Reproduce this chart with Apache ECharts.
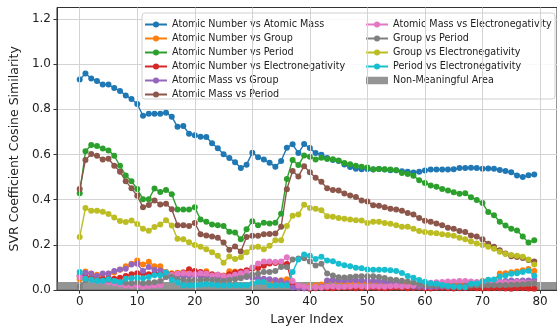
<!DOCTYPE html>
<html>
<head>
<meta charset="utf-8">
<script src="https://cdn.jsdelivr.net/npm/echarts@6/dist/echarts.min.js"></script>
<style>
  html, body { margin: 0; padding: 0; background: #fff; }
  #chart { width: 557px; height: 331px; }
</style>
</head>
<body>
<div id="chart"></div>
<script>
// layer index 0..79
const layers = Array.from({ length: 80 }, (_, i) => i)
const xTicks = [0, 10, 20, 30, 40, 50, 60, 70, 80]
const yTicks = [0, 0.2, 0.4, 0.6, 0.8, 1.0, 1.2]
const nonMeaningfulTop = 0.036

const anAtomicMass = [0.932, 0.958, 0.936, 0.925, 0.909, 0.909, 0.894, 0.881, 0.861, 0.845, 0.823, 0.771, 0.780, 0.780, 0.780, 0.784, 0.767, 0.722, 0.726, 0.692, 0.685, 0.678, 0.677, 0.650, 0.627, 0.601, 0.584, 0.566, 0.540, 0.555, 0.608, 0.588, 0.578, 0.563, 0.546, 0.571, 0.630, 0.645, 0.606, 0.646, 0.628, 0.606, 0.599, 0.584, 0.576, 0.571, 0.556, 0.544, 0.537, 0.534, 0.536, 0.533, 0.536, 0.533, 0.530, 0.530, 0.526, 0.524, 0.520, 0.523, 0.529, 0.533, 0.533, 0.533, 0.533, 0.534, 0.540, 0.540, 0.541, 0.540, 0.537, 0.538, 0.537, 0.531, 0.527, 0.521, 0.507, 0.500, 0.508, 0.511]
const anGroup = [0.048, 0.082, 0.072, 0.068, 0.070, 0.072, 0.078, 0.090, 0.105, 0.116, 0.131, 0.113, 0.125, 0.106, 0.106, 0.080, 0.075, 0.077, 0.078, 0.080, 0.080, 0.078, 0.083, 0.063, 0.066, 0.065, 0.083, 0.082, 0.080, 0.085, 0.060, 0.045, 0.038, 0.036, 0.040, 0.044, 0.048, 0.025, 0.018, 0.015, 0.018, 0.020, 0.025, 0.040, 0.042, 0.040, 0.037, 0.036, 0.035, 0.036, 0.036, 0.037, 0.036, 0.035, 0.033, 0.030, 0.028, 0.026, 0.024, 0.022, 0.020, 0.020, 0.022, 0.023, 0.025, 0.025, 0.027, 0.028, 0.030, 0.032, 0.040, 0.043, 0.045, 0.073, 0.075, 0.079, 0.082, 0.088, 0.093, 0.084]
const anPeriod = [0.428, 0.614, 0.642, 0.637, 0.626, 0.618, 0.594, 0.550, 0.507, 0.481, 0.447, 0.402, 0.402, 0.449, 0.434, 0.443, 0.424, 0.356, 0.356, 0.356, 0.366, 0.312, 0.302, 0.290, 0.287, 0.283, 0.258, 0.255, 0.225, 0.269, 0.305, 0.287, 0.298, 0.295, 0.298, 0.338, 0.491, 0.575, 0.553, 0.595, 0.590, 0.578, 0.585, 0.580, 0.579, 0.573, 0.562, 0.557, 0.550, 0.546, 0.542, 0.534, 0.536, 0.534, 0.533, 0.530, 0.518, 0.514, 0.506, 0.486, 0.474, 0.463, 0.457, 0.447, 0.440, 0.433, 0.426, 0.428, 0.411, 0.399, 0.385, 0.345, 0.331, 0.302, 0.286, 0.271, 0.264, 0.237, 0.210, 0.221]
const anElectroneg = [0.062, 0.060, 0.055, 0.055, 0.050, 0.052, 0.050, 0.055, 0.062, 0.070, 0.075, 0.072, 0.070, 0.075, 0.072, 0.065, 0.070, 0.072, 0.078, 0.092, 0.085, 0.080, 0.075, 0.070, 0.068, 0.062, 0.070, 0.078, 0.082, 0.088, 0.094, 0.098, 0.108, 0.118, 0.120, 0.120, 0.115, 0.020, 0.010, 0.008, 0.006, 0.008, 0.010, 0.009, 0.008, 0.010, 0.012, 0.010, 0.008, 0.009, 0.010, 0.011, 0.009, 0.008, 0.010, 0.012, 0.010, 0.008, 0.009, 0.010, 0.008, 0.007, 0.009, 0.010, 0.008, 0.007, 0.008, 0.009, 0.010, 0.008, 0.007, 0.008, 0.009, 0.008, 0.007, 0.006, 0.008, 0.009, 0.007, 0.006]
const amGroup = [0.065, 0.077, 0.073, 0.062, 0.073, 0.073, 0.084, 0.091, 0.094, 0.113, 0.116, 0.084, 0.102, 0.090, 0.087, 0.060, 0.058, 0.065, 0.060, 0.062, 0.065, 0.060, 0.058, 0.060, 0.055, 0.052, 0.058, 0.060, 0.062, 0.058, 0.055, 0.052, 0.050, 0.048, 0.045, 0.040, 0.030, 0.012, 0.010, 0.008, 0.010, 0.012, 0.015, 0.042, 0.045, 0.044, 0.043, 0.045, 0.044, 0.043, 0.042, 0.040, 0.040, 0.038, 0.036, 0.030, 0.020, 0.018, 0.016, 0.015, 0.015, 0.014, 0.015, 0.016, 0.015, 0.016, 0.018, 0.020, 0.022, 0.025, 0.028, 0.030, 0.035, 0.038, 0.040, 0.042, 0.040, 0.043, 0.042, 0.045]
const amPeriod = [0.447, 0.576, 0.602, 0.594, 0.578, 0.581, 0.550, 0.524, 0.482, 0.450, 0.417, 0.367, 0.376, 0.396, 0.379, 0.382, 0.358, 0.287, 0.287, 0.284, 0.297, 0.247, 0.242, 0.237, 0.232, 0.210, 0.179, 0.193, 0.171, 0.235, 0.240, 0.240, 0.247, 0.248, 0.250, 0.280, 0.446, 0.527, 0.503, 0.548, 0.521, 0.497, 0.479, 0.450, 0.443, 0.440, 0.427, 0.418, 0.412, 0.396, 0.392, 0.375, 0.373, 0.367, 0.360, 0.356, 0.351, 0.341, 0.334, 0.319, 0.307, 0.302, 0.295, 0.287, 0.276, 0.271, 0.261, 0.257, 0.242, 0.237, 0.225, 0.205, 0.192, 0.176, 0.162, 0.150, 0.146, 0.142, 0.133, 0.126]
const amElectroneg = [0.058, 0.050, 0.045, 0.040, 0.038, 0.035, 0.030, 0.025, 0.020, 0.018, 0.020, 0.015, 0.018, 0.020, 0.022, 0.060, 0.068, 0.072, 0.075, 0.072, 0.070, 0.075, 0.072, 0.065, 0.068, 0.062, 0.060, 0.068, 0.075, 0.080, 0.100, 0.118, 0.126, 0.126, 0.124, 0.126, 0.145, 0.040, 0.020, 0.015, 0.012, 0.014, 0.012, 0.015, 0.016, 0.014, 0.015, 0.016, 0.018, 0.016, 0.015, 0.017, 0.016, 0.015, 0.017, 0.018, 0.016, 0.018, 0.020, 0.025, 0.030, 0.032, 0.035, 0.036, 0.038, 0.038, 0.040, 0.040, 0.038, 0.036, 0.035, 0.034, 0.035, 0.036, 0.034, 0.033, 0.036, 0.034, 0.033, 0.032]
const groupPeriod = [0.015, 0.045, 0.048, 0.045, 0.042, 0.045, 0.040, 0.035, 0.032, 0.030, 0.035, 0.030, 0.032, 0.035, 0.040, 0.058, 0.058, 0.048, 0.045, 0.042, 0.045, 0.044, 0.046, 0.045, 0.042, 0.040, 0.045, 0.048, 0.052, 0.061, 0.068, 0.072, 0.080, 0.080, 0.085, 0.102, 0.102, 0.135, 0.140, 0.141, 0.127, 0.109, 0.116, 0.073, 0.065, 0.057, 0.056, 0.058, 0.060, 0.061, 0.061, 0.061, 0.058, 0.054, 0.047, 0.045, 0.041, 0.038, 0.034, 0.026, 0.022, 0.020, 0.020, 0.019, 0.018, 0.018, 0.018, 0.019, 0.020, 0.020, 0.020, 0.021, 0.022, 0.022, 0.023, 0.024, 0.025, 0.026, 0.028, 0.030]
const groupElectroneg = [0.235, 0.363, 0.351, 0.351, 0.347, 0.337, 0.321, 0.306, 0.301, 0.308, 0.292, 0.271, 0.263, 0.279, 0.290, 0.309, 0.286, 0.227, 0.225, 0.212, 0.200, 0.192, 0.181, 0.167, 0.152, 0.121, 0.149, 0.138, 0.145, 0.167, 0.189, 0.192, 0.181, 0.196, 0.220, 0.221, 0.283, 0.329, 0.334, 0.378, 0.363, 0.360, 0.353, 0.327, 0.324, 0.319, 0.316, 0.312, 0.309, 0.308, 0.297, 0.302, 0.302, 0.297, 0.293, 0.287, 0.280, 0.280, 0.271, 0.261, 0.257, 0.254, 0.251, 0.247, 0.244, 0.240, 0.232, 0.225, 0.215, 0.206, 0.199, 0.192, 0.183, 0.170, 0.160, 0.155, 0.152, 0.148, 0.135, 0.113]
const periodElectroneg = [0.080, 0.050, 0.045, 0.040, 0.040, 0.048, 0.040, 0.035, 0.050, 0.052, 0.055, 0.052, 0.058, 0.066, 0.066, 0.078, 0.045, 0.035, 0.022, 0.022, 0.022, 0.024, 0.026, 0.024, 0.022, 0.020, 0.022, 0.022, 0.022, 0.022, 0.029, 0.036, 0.036, 0.022, 0.022, 0.022, 0.022, 0.080, 0.135, 0.158, 0.152, 0.138, 0.148, 0.131, 0.128, 0.116, 0.110, 0.106, 0.099, 0.097, 0.091, 0.090, 0.090, 0.090, 0.088, 0.085, 0.076, 0.062, 0.055, 0.045, 0.037, 0.030, 0.028, 0.023, 0.018, 0.015, 0.014, 0.013, 0.028, 0.029, 0.038, 0.046, 0.047, 0.060, 0.065, 0.072, 0.075, 0.080, 0.086, 0.063]

const seriesNames = [
  "Atomic Number vs Atomic Mass",
  "Atomic Number vs Group",
  "Atomic Number vs Period",
  "Atomic Number vs Electronegativity",
  "Atomic Mass vs Group",
  "Atomic Mass vs Period",
  "Atomic Mass vs Electronegativity",
  "Group vs Period",
  "Group vs Electronegativity",
  "Period vs Electronegativity",
]
const seriesValues = [anAtomicMass, anGroup, anPeriod, anElectroneg, amGroup, amPeriod, amElectroneg, groupPeriod, groupElectroneg, periodElectroneg]
const colors = ["#1f77b4", "#ff7f0e", "#2ca02c", "#d62728", "#9467bd", "#8c564b", "#e377c2", "#7f7f7f", "#bcbd22", "#17becf"]
const bandName = "Non-Meaningful Area"
const bandColor = "rgba(112,112,112,0.75)"
const gridColor = "#d3d3d3"

const FONT = "DejaVu Sans"
const chart = echarts.init(document.getElementById("chart"), null, { renderer: "canvas" })

const lineSeries = seriesNames.map((name, k) => ({
  name,
  type: "line",
  data: layers.map((x, i) => [x, seriesValues[k][i]]),
  symbol: "circle",
  symbolSize: 6,
  showAllSymbol: true,
  color: colors[k],
  lineStyle: { width: 1.4, color: colors[k] },
  itemStyle: { color: colors[k] },
  z: 2,
}))

// vertical grid lines at the x tick values (split lines ignore customValues)
const xGridSeries = {
  type: "line",
  data: [],
  z: 1,
  silent: true,
  markLine: {
    silent: true,
    symbol: "none",
    label: { show: false },
    lineStyle: { color: gridColor, width: 1, type: "solid" },
    data: xTicks.map((x) => ({ xAxis: x })),
  },
}

const bandSeries = {
  name: bandName,
  type: "line",
  data: [],
  color: bandColor,
  itemStyle: { color: bandColor },
  z: 3,
  markArea: {
    silent: true,
    itemStyle: { color: bandColor },
    data: [[{ yAxis: 0 }, { yAxis: nonMeaningfulTop }]],
  },
}

const legendCommon = {
  orient: "vertical",
  top: 14,
  itemWidth: 22,
  itemHeight: 7.5,
  itemGap: 3,
  textStyle: { fontFamily: FONT, fontSize: 9.6, color: "#222", lineHeight: 11 },
  z: 5,
}

const option = {
  animation: false,
  backgroundColor: "#fff",
  textStyle: { fontFamily: FONT },
  grid: {
    left: 51.5, right: -3.5, top: 7.5, bottom: 36,
    show: true, borderColor: "#333", borderWidth: 1,
  },
  graphic: [{
    type: "rect",
    left: 141.5, top: 12.5, z: 4,
    shape: { width: 413, height: 86, r: 3 },
    style: { fill: "rgba(255,255,255,0.85)", stroke: "#d0d0d0", lineWidth: 1 },
  }],
  legend: [
    { ...legendCommon, left: 139, data: seriesNames.slice(0, 6) },
    {
      ...legendCommon, left: 360,
      data: [...seriesNames.slice(6), { name: bandName, icon: "rect", itemStyle: { color: bandColor } }],
    },
  ],
  xAxis: {
    type: "value",
    min: -3.95,
    max: 82.95,
    name: "Layer Index",
    nameLocation: "middle",
    nameGap: 20,
    nameTextStyle: { fontFamily: FONT, fontSize: 12.5, color: "#222" },
    axisLine: { show: true, onZero: false, lineStyle: { color: "#333" } },
    axisTick: { show: true, length: 3.5, lineStyle: { color: "#333" }, customValues: xTicks },
    axisLabel: { customValues: xTicks, fontFamily: FONT, fontSize: 12, color: "#222", margin: 6 },
    splitLine: { show: false },
  },
  yAxis: {
    type: "value",
    min: 0,
    max: 1.25,
    interval: 0.2,
    name: "SVR Coefficient Cosine Similarity",
    nameLocation: "middle",
    nameGap: 28,
    nameTextStyle: { fontFamily: FONT, fontSize: 12.5, color: "#222" },
    axisLine: { show: true, onZero: false, lineStyle: { color: "#333" } },
    axisTick: { show: true, length: 3.5, lineStyle: { color: "#333" }, customValues: yTicks },
    axisLabel: {
      customValues: yTicks, fontFamily: FONT, fontSize: 12, color: "#222", margin: 6,
      formatter: (v) => v.toFixed(1),
    },
    splitLine: { show: true, lineStyle: { color: gridColor, width: 1 } },
  },
  series: [xGridSeries, ...lineSeries, bandSeries],
}

chart.setOption(option)
</script>
</body>
</html>
